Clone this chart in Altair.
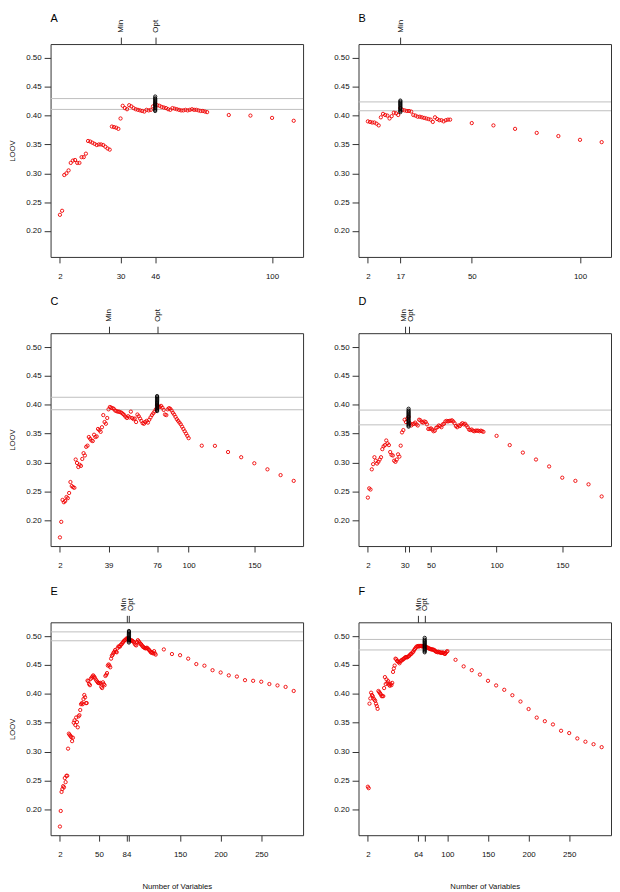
import altair as alt
import pandas as pd

FONT = "Liberation Sans"

# ---------------- Panel A ----------------
a_n = list(range(2, 71)) + [80, 90, 100, 110]
a_v = [0.228, 0.235, 0.297, 0.300, 0.305, 0.318, 0.322, 0.323, 0.318, 0.318,
       0.328, 0.328, 0.334, 0.356, 0.355, 0.353, 0.351, 0.349, 0.350, 0.350,
       0.349, 0.346, 0.343, 0.341, 0.381, 0.380, 0.379, 0.377, 0.395, 0.417,
       0.413, 0.411, 0.418, 0.416, 0.413, 0.411, 0.410, 0.409, 0.408, 0.407,
       0.410, 0.409, 0.410, 0.416, 0.419, 0.418, 0.417, 0.415, 0.414, 0.413,
       0.411, 0.410, 0.413, 0.412, 0.411, 0.410, 0.409, 0.409, 0.410, 0.409,
       0.410, 0.411, 0.410, 0.410, 0.409, 0.408, 0.408, 0.407, 0.406,
       0.401, 0.400, 0.396, 0.391]
a_opt_x = 46
a_opt_v = [0.408, 0.410, 0.412, 0.414, 0.416, 0.418, 0.420, 0.422, 0.424, 0.426, 0.428, 0.430, 0.433]
a_lines = [0.4295, 0.4107]
a_ticks = [2, 30, 46, 100]
a_hidden = []
a_top = {"Min": 30, "Opt": 46}

# ---------------- Panel B ----------------
b_n = list(range(2, 41)) + [50, 60, 70, 80, 90, 100, 110]
b_v = [0.390, 0.389, 0.388, 0.388, 0.386, 0.383, 0.397, 0.403, 0.401, 0.400,
       0.395, 0.399, 0.405, 0.404, 0.401, 0.413, 0.410, 0.409, 0.408, 0.408,
       0.407, 0.401, 0.400, 0.398, 0.398, 0.397, 0.396, 0.395, 0.394, 0.393,
       0.389, 0.397, 0.394, 0.392, 0.392, 0.390, 0.392, 0.393, 0.393,
       0.387, 0.383, 0.377, 0.370, 0.3645, 0.358, 0.354]
b_opt_x = 17
b_opt_v = [0.406, 0.408, 0.410, 0.412, 0.414, 0.416, 0.418, 0.420, 0.422, 0.424, 0.426]
b_lines = [0.4237, 0.4084]
b_ticks = [2, 17, 50, 100]
b_hidden = []
b_top = {"Min": 17}

# ---------------- Panel C ----------------
c_n = list(range(2, 101)) + [110, 120, 130, 140, 150, 160, 170, 180]
c_v = [0.170, 0.197, 0.235, 0.231, 0.233, 0.240, 0.238, 0.247, 0.266, 0.259,
       0.257, 0.256, 0.305, 0.299, 0.292, 0.296, 0.294, 0.306, 0.316, 0.312,
       0.327, 0.329, 0.344, 0.341, 0.338, 0.337, 0.348, 0.344, 0.345, 0.358,
       0.356, 0.353, 0.361, 0.382, 0.370, 0.367, 0.377, 0.392, 0.396, 0.395,
       0.394, 0.393, 0.390, 0.389, 0.388, 0.388, 0.387, 0.386, 0.384, 0.382,
       0.379, 0.377, 0.380, 0.378, 0.388, 0.377, 0.375, 0.376, 0.370, 0.383,
       0.380, 0.376, 0.372, 0.368, 0.367, 0.370, 0.372, 0.369, 0.374, 0.378,
       0.382, 0.385, 0.388, 0.392, 0.399, 0.397, 0.396, 0.398, 0.395, 0.391,
       0.383, 0.382, 0.392, 0.394, 0.393, 0.390, 0.386, 0.383, 0.379, 0.375,
       0.372, 0.369, 0.366, 0.362, 0.358, 0.354, 0.350, 0.346, 0.342,
       0.329, 0.3287, 0.318, 0.309, 0.2985, 0.288, 0.278, 0.268]
c_opt_x = 76
c_opt_v = [0.389, 0.391, 0.393, 0.395, 0.397, 0.399, 0.401, 0.403, 0.405, 0.407, 0.409, 0.411, 0.413, 0.415]
c_lines = [0.4129, 0.3913]
c_ticks = [2, 39, 76, 100, 150]
c_hidden = []
c_top = {"Min": 39, "Opt": 76}

# ---------------- Panel D ----------------
d_n = list(range(2, 91)) + [100, 110, 120, 130, 140, 150, 160, 170, 180]
d_v = [0.239, 0.255, 0.253, 0.288, 0.297, 0.309, 0.303, 0.298, 0.301, 0.305,
       0.309, 0.323, 0.328, 0.330, 0.338, 0.333, 0.330, 0.318, 0.313, 0.312,
       0.303, 0.301, 0.305, 0.314, 0.310, 0.329, 0.352, 0.356, 0.374, 0.370,
       0.376, 0.379, 0.368, 0.364, 0.366, 0.367, 0.369, 0.366, 0.364, 0.374,
       0.373, 0.370, 0.369, 0.371, 0.370, 0.366, 0.358, 0.358, 0.359, 0.357,
       0.354, 0.355, 0.360, 0.361, 0.364, 0.363, 0.361, 0.366, 0.367, 0.371,
       0.372, 0.371, 0.372, 0.372, 0.373, 0.371, 0.368, 0.363, 0.361, 0.364,
       0.363, 0.366, 0.368, 0.366, 0.367, 0.364, 0.361, 0.357, 0.356, 0.357,
       0.355, 0.354, 0.355, 0.355, 0.355, 0.354, 0.355, 0.354, 0.353,
       0.346, 0.330, 0.317, 0.305, 0.293, 0.2735, 0.268, 0.262, 0.241]
d_opt_x = 33
d_opt_v = [0.362, 0.364, 0.366, 0.368, 0.370, 0.372, 0.374, 0.376, 0.378, 0.380, 0.382, 0.384, 0.386, 0.388, 0.390, 0.393]
d_lines = [0.3907, 0.3651]
d_ticks = [2, 30, 33, 50, 100, 150]
d_hidden = [33]
d_top = {"Min": 30, "Opt": 33}

# ---------------- Panel E ----------------
e_n = list(range(2, 121)) + [130, 140, 150, 160, 170, 180, 190, 200, 210, 220,
                             230, 240, 250, 260, 270, 280, 290]
e_v = [0.170, 0.197, 0.230, 0.235, 0.240, 0.238, 0.254, 0.247, 0.258, 0.258,
       0.305, 0.331, 0.329, 0.327, 0.325, 0.318, 0.324, 0.350, 0.354, 0.346,
       0.359, 0.351, 0.342, 0.361, 0.363, 0.372, 0.382, 0.384, 0.382, 0.391,
       0.398, 0.394, 0.384, 0.384, 0.423, 0.422, 0.417, 0.415, 0.426, 0.428,
       0.430, 0.432, 0.430, 0.428, 0.425, 0.423, 0.421, 0.419, 0.419, 0.418,
       0.419, 0.412, 0.410, 0.420, 0.417, 0.415, 0.431, 0.433, 0.436, 0.449,
       0.451, 0.449, 0.446, 0.461, 0.466, 0.468, 0.471, 0.473, 0.476, 0.473,
       0.472, 0.479, 0.482, 0.482, 0.482, 0.485, 0.486, 0.488, 0.490, 0.492,
       0.493, 0.494, 0.496, 0.495, 0.497, 0.494, 0.494, 0.493, 0.493, 0.492,
       0.491, 0.490, 0.487, 0.485, 0.484, 0.490, 0.493, 0.491, 0.489, 0.487,
       0.486, 0.484, 0.482, 0.481, 0.480, 0.479, 0.479, 0.480, 0.479, 0.477,
       0.476, 0.474, 0.472, 0.471, 0.472, 0.470, 0.474, 0.470, 0.468,
       0.477, 0.469, 0.467, 0.461, 0.4516, 0.4488, 0.441, 0.437, 0.432, 0.430,
       0.4237, 0.4226, 0.421, 0.417, 0.4146, 0.412, 0.405]
e_opt_x = 87
e_opt_v = [0.489, 0.491, 0.493, 0.495, 0.497, 0.499, 0.501, 0.503, 0.505, 0.507, 0.509]
e_lines = [0.5074, 0.4920]
e_ticks = [2, 50, 84, 87, 150, 200, 250]
e_hidden = [87]
e_top = {"Min": 84, "Opt": 87}

# ---------------- Panel F ----------------
f_n = list(range(2, 101)) + [110, 120, 130, 140, 150, 160, 170, 180, 190, 200,
                             210, 220, 230, 240, 250, 260, 270, 280, 290]
f_v = [0.239, 0.2365, 0.383, 0.392, 0.402, 0.398, 0.396, 0.392, 0.390, 0.388,
       0.383, 0.379, 0.374, 0.405, 0.403, 0.401, 0.399, 0.396, 0.396, 0.396,
       0.410, 0.429, 0.417, 0.425, 0.419, 0.422, 0.416, 0.414, 0.417, 0.415,
       0.419, 0.438, 0.444, 0.449, 0.461, 0.460, 0.457, 0.456, 0.455, 0.453,
       0.456, 0.458, 0.458, 0.460, 0.460, 0.462, 0.463, 0.464, 0.463, 0.464,
       0.465, 0.466, 0.468, 0.469, 0.470, 0.472, 0.473, 0.476, 0.478, 0.480,
       0.482, 0.482, 0.483, 0.482, 0.483, 0.483, 0.483, 0.482, 0.483, 0.482,
       0.4835, 0.482, 0.481, 0.480, 0.480, 0.479, 0.478, 0.478, 0.477, 0.477,
       0.477, 0.476, 0.476, 0.474, 0.473, 0.473, 0.472, 0.473, 0.472, 0.472,
       0.471, 0.471, 0.472, 0.471, 0.470, 0.469, 0.471, 0.473, 0.474,
       0.459, 0.4476, 0.441, 0.4334, 0.4226, 0.4146, 0.407, 0.3976, 0.3867, 0.3737,
       0.3588, 0.3526, 0.347, 0.336, 0.332, 0.3227, 0.317, 0.3127, 0.3076]
f_opt_x = 72
f_opt_v = [0.472, 0.474, 0.476, 0.478, 0.480, 0.482, 0.484, 0.486, 0.488, 0.490, 0.492, 0.494, 0.497]
f_lines = [0.4943, 0.4761]
f_ticks = [2, 64, 72, 100, 150, 200, 250]
f_hidden = [72]
f_top = {"Min": 64, "Opt": 72}

Y_TICKS = [0.20, 0.25, 0.30, 0.35, 0.40, 0.45, 0.50]
Y_DOMAIN = [0.155, 0.524]
W, H = 255, 215


def xdomain(xmax, xmin=2):
    pad = 0.04 * (xmax - xmin)
    return [xmin - pad, xmax + pad]


def panel(letter, n, v, opt_x, opt_v, lines, ticks, hidden, top, xmax,
          left, bottom, letter_y, top_offsets=None):
    assert len(n) == len(v), letter
    xs = alt.Scale(domain=xdomain(xmax), nice=False, zero=False)
    ys = alt.Scale(domain=Y_DOMAIN, nice=False, zero=False)
    yaxis = alt.Axis(values=Y_TICKS, format=".2f", tickSize=6.5, labelPadding=3,
                     domain=False, grid=False, title="LOOV" if left else None,
                     titlePadding=9, labelFontSize=8, titleFontSize=7.8,
                     titleFontWeight="normal")
    yenc = alt.Y("v:Q", scale=ys, axis=yaxis)
    if hidden:
        lexpr = "indexof(%s, datum.value) >= 0 ? '' : datum.label" % str(hidden)
    else:
        lexpr = "datum.label"
    bottom_axis = alt.Axis(values=ticks, format="d", labelExpr=lexpr, tickSize=6,
                           labelPadding=10, domain=False, grid=False,
                           labelFlush=False, labelOverlap=False,
                           title="Number of Variables" if bottom else None,
                           titlePadding=24, labelFontSize=8, titleFontSize=7.8,
                           titleFontWeight="normal")
    names = list(top.keys())
    vals = list(top.values())
    if len(vals) == 1:
        texpr = "'%s'" % names[0]
    else:
        texpr = "datum.value == %s ? '%s' : '%s'" % (vals[0], names[0], names[1])
    top_kwargs = dict(orient="top", values=vals, labelExpr=texpr, labelAngle=270,
                      tickSize=7, labelPadding=5, domain=False, grid=False,
                      labelFlush=False, labelOverlap=False, title=None,
                      labelFontSize=8)
    if top_offsets:
        top_kwargs["labelOffset"] = {"condition": {"test": "datum.value == %s" % vals[0],
                                                   "value": top_offsets[0]},
                                     "value": top_offsets[1]}
    top_axis = alt.Axis(**top_kwargs)

    df = pd.DataFrame({"n": n, "v": v})
    dopt = pd.DataFrame({"n": [opt_x] * len(opt_v), "v": opt_v})
    dlines = pd.DataFrame({"v": lines})
    dletter = pd.DataFrame({"t": [letter]})

    rules = alt.Chart(dlines).mark_rule(color="#bebebe", strokeWidth=1).encode(y=yenc)
    red = alt.Chart(df).mark_point(shape="circle", filled=False, color="#f00000",
                                   size=11, strokeWidth=0.9, opacity=1).encode(
        x=alt.X("n:Q", scale=xs, axis=bottom_axis), y=yenc)
    black = alt.Chart(dopt).mark_point(shape="circle", filled=False, color="black",
                                       size=11, strokeWidth=0.9, opacity=1).encode(
        x=alt.X("n:Q", scale=xs, axis=top_axis), y=yenc)
    txt = alt.Chart(dletter).mark_text(align="left", baseline="top", fontSize=11,
                                       font=FONT, color="black").encode(
        text="t:N", x=alt.value(0), y=alt.value(letter_y))
    return alt.layer(rules, red, black, txt).resolve_axis(x="independent").properties(
        width=W, height=H)


pA = panel("A", a_n, a_v, a_opt_x, a_opt_v, a_lines, a_ticks, a_hidden, a_top, 110, True, False, -31)
pB = panel("B", b_n, b_v, b_opt_x, b_opt_v, b_lines, b_ticks, b_hidden, b_top, 110, False, False, -31)
pC = panel("C", c_n, c_v, c_opt_x, c_opt_v, c_lines, c_ticks, c_hidden, c_top, 180, True, False, -37)
pD = panel("D", d_n, d_v, d_opt_x, d_opt_v, d_lines, d_ticks, d_hidden, d_top, 180, False, False, -37, (-1, 1.5))
pE = panel("E", e_n, e_v, e_opt_x, e_opt_v, e_lines, e_ticks, e_hidden, e_top, 290, True, True, -37, (-3, 2))
pF = panel("F", f_n, f_v, f_opt_x, f_opt_v, f_lines, f_ticks, f_hidden, f_top, 290, False, True, -37)

chart = alt.concat(pA, pB, pC, pD, pE, pF, columns=2,
                   spacing={"row": 77, "column": 56}, bounds="flush").properties(
    padding=0
).configure_view(stroke="#333333", strokeWidth=1).configure_axis(
    labelFont=FONT, titleFont=FONT, labelColor="#111111", titleColor="#111111",
    tickColor="#333333", tickWidth=1)

chart.save("out.html", embed_options={"renderer": "svg", "actions": False})
